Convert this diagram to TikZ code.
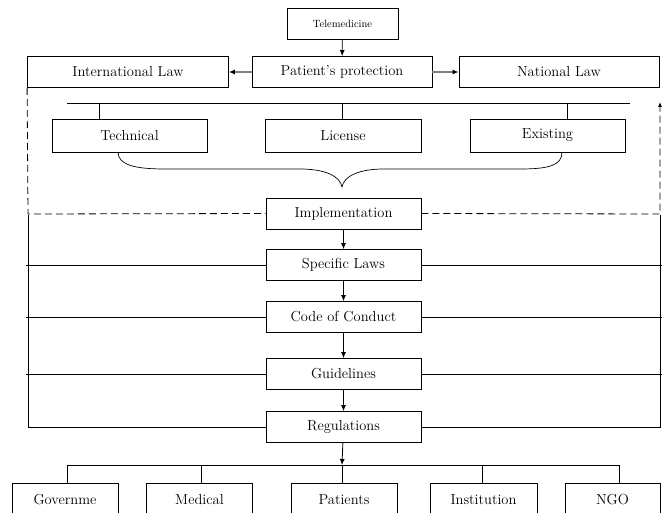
\documentclass[tikz,border=0pt]{standalone}
\usetikzlibrary{arrows.meta}

\begin{document}
\begin{tikzpicture}[
          x=1pt, y=-1pt,
          box/.style={draw, line width=0.8pt, inner sep=0pt, minimum height=31pt, font=\fontsize{14.5}{16}\selectfont},
          flow/.style={-{Latex[length=6pt, width=5pt]}, line width=0.8pt},
          side/.style={-{Latex[length=6pt, width=5pt, color=black]}, draw=gray, line width=1.6pt},
          ]

          \useasboundingbox (0,0) rectangle (662,513);

          % top row
          \node[box, minimum width=111pt, minimum height=31pt, font=\fontsize{10.5}{12}\selectfont] (tele) at (342.5,23.5) {Telemedicine};
          \node[box, minimum width=180pt] (prot) at (342,72) {Patient's protection};
          \node[box, minimum width=201pt] (intl) at (128,72) {International Law};
          \node[box, minimum width=200pt] (natl) at (559,72) {National Law};

          % three branches
          \node[box, minimum width=155pt, minimum height=33pt] (tech) at (129.5,135.5) {Technical};
          \node[box, minimum width=156pt, minimum height=33pt] (lic) at (343,135.5) {License};
          \node[box, minimum width=155pt, minimum height=33pt] (exist) at (547.5,135.5) {Existing};

          % middle column
          \node[box, minimum width=155pt] (impl) at (343.5,213.5) {Implementation};
          \node[box, minimum width=155pt] (spec) at (343.5,265) {Specific Laws};
          \node[box, minimum width=155pt] (code) at (343.5,317) {Code of Conduct};
          \node[box, minimum width=155pt] (guide) at (343.5,374) {Guidelines};
          \node[box, minimum width=155pt] (regu) at (343.5,427) {Regulations};

          % bottom row (cut off by the page)
          \node[box, minimum width=106pt, minimum height=34pt] (gov) at (65,500) {Governme};
          \node[box, minimum width=106pt, minimum height=34pt] (med) at (199.5,500) {Medical};
          \node[box, minimum width=106pt, minimum height=34pt] (pat) at (344,500) {Patients};
          \node[box, minimum width=107pt, minimum height=34pt] (inst) at (483.5,500) {Institution};
          \node[box, minimum width=95pt, minimum height=34pt] (ngo) at (612.5,500) {NGO};

          \coordinate (topbar) at (342,103);
          \coordinate (botbar) at (342,465);

          \draw[flow] (tele) -- (prot);
          \draw[side] (prot) -- (intl);
          \draw[side] (prot) -- (natl);

          \draw[line width=0.8pt] (67,103) -- (630,103);
          \draw[line width=0.8pt] (99,103) -- (99,119);
          \draw[line width=0.8pt] (topbar) -- (topbar |- lic.north);
          \draw[line width=0.8pt] (567,103) -- (567,119);

          % brace under the branches
          \draw[line width=0.7pt] (118,152) .. controls (118,165) and (135,169) .. (165,169)
               -- (300,169) .. controls (325,169) and (340,176) .. (342,187)
               .. controls (344,176) and (359,169) .. (384,169)
               -- (520,169) .. controls (550,169) and (562,165) .. (562,152);

          % dashed loop
          \draw[dashed, dash pattern=on 7pt off 4pt, line width=0.8pt] (intl.south west) -- (28,214) -- (impl.west);
          \draw[dashed, dash pattern=on 7pt off 4pt, line width=0.8pt, -{Latex[length=5pt, width=4pt]}] (impl.east) -- (660,214) -- (660,102);

          % solid frame
          \draw[line width=0.8pt] (28,215) -- (28,427) -- (regu.west);
          \draw[line width=0.8pt] (660,215) -- (660,427) -- (regu.east);
          \foreach \n in {spec, code, guide} {
            \draw[line width=0.8pt] (26,0 |- \n.west) -- (\n.west);
            \draw[line width=0.8pt] (\n.east) -- (662,0 |- \n.east);
          }

          \draw[flow] (impl) -- (spec);
          \draw[flow] (spec) -- (code);
          \draw[flow] (code) -- (guide);
          \draw[flow] (guide) -- (regu);
          \draw[flow] (regu) -- (botbar);

          \draw[line width=0.8pt] (67,465) -- (619,465);
          \foreach \n/\xx in {gov/67, med/201, pat/342, inst/482, ngo/619}
            \draw[line width=0.8pt] (\xx,465) -- (\xx,0 |- \n.north);

        \end{tikzpicture}
\end{document}
